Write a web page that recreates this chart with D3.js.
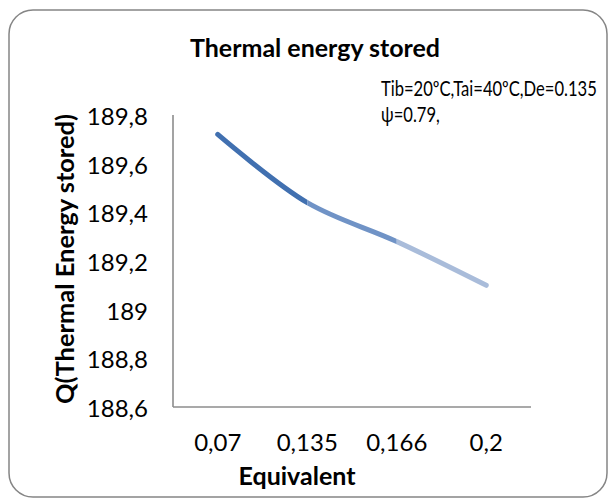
<!DOCTYPE html>
<html>
<head>
<meta charset="utf-8">
<script src="https://cdn.jsdelivr.net/npm/d3@7"></script>
<style>
  body { margin: 0; background: #fff; }
  text { font-family: Lato, "Open Sans", sans-serif; fill: #000; }
</style>
</head>
<body>
<script>
// chart data
var categories = ["0,07", "0,135", "0,166", "0,2"];
var values = [189.72, 189.44, 189.28, 189.10];
var yTicks = [188.6, 188.8, 189, 189.2, 189.4, 189.6, 189.8];
var segmentColors = ["#4170b0", "#7093c6", "#a9bcda"];

var width = 609;
var height = 499;
var plotLeft = 173, plotRight = 531, plotTop = 115, plotBottom = 407;

var svg = d3.select("body").append("svg")
  .attr("width", width)
  .attr("height", height);

// outer rounded frame
svg.append("rect")
  .attr("x", 9).attr("y", 10)
  .attr("width", 598).attr("height", 487)
  .attr("rx", 24).attr("ry", 24)
  .attr("fill", "#fff")
  .attr("stroke", "#858585")
  .attr("stroke-width", 1.5);

var x = d3.scaleBand()
  .domain(categories)
  .range([plotLeft, plotRight]);

var y = d3.scaleLinear()
  .domain([188.6, 189.8])
  .range([plotBottom, plotTop]);

// y axis labels
var yAxis = d3.axisLeft(y)
  .tickValues(yTicks)
  .tickSize(0)
  .tickPadding(25)
  .tickFormat(d => d3.format(".1f")(d).replace(".0", "").replace(".", ","));

svg.append("g")
  .attr("transform", "translate(" + plotLeft + ",0)")
  .call(yAxis)
  .call(g => g.select(".domain").remove())
  .selectAll("text")
    .attr("font-size", 24)
    .attr("dy", "0.4em")
    .style("font-family", "Lato, sans-serif");

// x axis labels
var xAxis = d3.axisBottom(x)
  .tickSize(0)
  .tickPadding(27);

svg.append("g")
  .attr("transform", "translate(0," + plotBottom + ")")
  .call(xAxis)
  .call(g => g.select(".domain").remove())
  .selectAll("text")
    .attr("font-size", 24)
    .attr("dy", "0.71em")
    .style("font-family", "Lato, sans-serif");

// axis lines
svg.append("line")
  .attr("x1", plotLeft).attr("x2", plotLeft)
  .attr("y1", plotTop).attr("y2", plotBottom)
  .attr("stroke", "#8c8c8c").attr("stroke-width", 1.6);
svg.append("line")
  .attr("x1", plotLeft).attr("x2", plotRight)
  .attr("y1", plotBottom).attr("y2", plotBottom)
  .attr("stroke", "#8c8c8c").attr("stroke-width", 1.6);

// smoothed line, coloured per segment using clip rects
var pts = categories.map((c, i) => [x(c) + x.bandwidth() / 2, y(values[i])]);
var line = d3.line().curve(d3.curveCatmullRom.alpha(0.5));
var defs = svg.append("defs");

for (var i = 0; i < pts.length - 1; i++) {
  var x0 = i == 0 ? pts[i][0] - 20 : pts[i][0];
  var x1 = i == pts.length - 2 ? pts[i + 1][0] + 20 : pts[i + 1][0];
  defs.append("clipPath").attr("id", "seg" + i)
    .append("rect")
    .attr("x", x0).attr("y", 0)
    .attr("width", x1 - x0).attr("height", height);
  svg.append("path")
    .attr("d", line(pts))
    .attr("fill", "none")
    .attr("stroke", segmentColors[i])
    .attr("stroke-width", 5)
    .attr("stroke-linecap", "round")
    .attr("clip-path", "url(#seg" + i + ")");
}

// title
svg.append("text")
  .attr("x", 190).attr("y", 57)
  .attr("font-size", 25)
  .attr("font-weight", "bold")
  .attr("textLength", 250)
  .attr("lengthAdjust", "spacingAndGlyphs")
  .text("Thermal energy stored");

// annotation (narrow text, squeezed horizontally)
var note = svg.append("g")
  .attr("transform", "translate(381,96) scale(0.79,1)");
note.append("text")
  .attr("font-size", 21)
  .text("Tib=20ºC,Tai=40ºC,De=0.135");
note.append("text")
  .attr("y", 26)
  .attr("font-size", 21)
  .text("ψ=0.79,");

// axis titles
svg.append("text")
  .attr("x", 297).attr("y", 485)
  .attr("text-anchor", "middle")
  .attr("font-size", 25)
  .attr("font-weight", "bold")
  .text("Equivalent");

svg.append("text")
  .attr("transform", "translate(74,259) rotate(-90)")
  .attr("text-anchor", "middle")
  .attr("font-size", 24)
  .attr("font-weight", "bold")
  .attr("textLength", 290)
  .attr("lengthAdjust", "spacingAndGlyphs")
  .text("Q(Thermal Energy stored)");
</script>
</body>
</html>
